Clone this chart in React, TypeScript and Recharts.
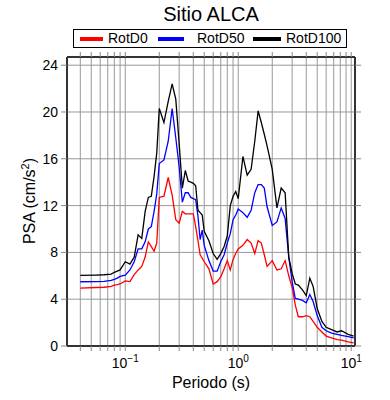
import { LineChart, Line, XAxis, YAxis, CartesianGrid } from 'recharts';

const FONT = '"Liberation Sans", Arial, Helvetica, sans-serif';

const periods = [
  0.04, 0.055, 0.065, 0.075, 0.08, 0.085, 0.09, 0.1, 0.11, 0.12, 0.13, 0.14,
  0.15, 0.16, 0.17, 0.18, 0.19, 0.2, 0.22, 0.24, 0.26, 0.28, 0.3, 0.32, 0.34,
  0.36, 0.38, 0.4, 0.42, 0.44, 0.46, 0.48, 0.5, 0.55, 0.6, 0.65, 0.7, 0.75,
  0.8, 0.85, 0.9, 0.95, 1.0, 1.1, 1.2, 1.3, 1.4, 1.5, 1.6, 1.7, 1.8, 2.0, 2.2,
  2.4, 2.6, 2.8, 3.0, 3.2, 3.4, 3.7, 4.0, 4.3, 4.6, 5.0, 5.5, 6.0, 6.7, 7.5,
  8.2, 9.4, 10.5,
];

const rotD0 = [
  4.94, 5.0, 5.02, 5.1, 5.2, 5.24, 5.3, 5.57, 5.5, 6.1, 6.5, 6.8, 7.6, 8.9,
  8.5, 8.1, 8.8, 12.7, 12.8, 14.4, 12.9, 10.8, 10.5, 11.5, 11.3, 11.3, 11.3,
  11.3, 10.2, 9.0, 7.8, 7.5, 7.2, 6.6, 5.3, 5.5, 5.9, 6.6, 7.3, 6.5, 7.4, 7.9,
  8.3, 8.6, 9.1, 8.8, 7.9, 9.0, 8.8, 7.8, 6.8, 7.3, 6.5, 6.6, 7.3, 6.0, 5.0,
  3.5, 2.5, 2.5, 2.6, 2.5, 2.1, 1.6, 1.2, 0.85, 0.7, 0.55, 0.5, 0.35, 0.26,
];

const rotD50 = [
  5.49, 5.5, 5.52, 5.6, 5.7, 5.8, 5.95, 6.05, 6.5, 7.2, 8.3, 8.3, 8.9, 10.0,
  10.2, 11.5, 13.0, 15.6, 15.9, 17.5, 20.3, 17.8, 15.3, 12.3, 13.1, 13.1,
  12.7, 12.6, 12.5, 11.1, 9.1, 9.9, 8.6, 7.3, 6.4, 6.4, 7.2, 7.8, 8.8, 9.6,
  10.8, 11.2, 11.7, 11.4, 11.0, 11.6, 13.1, 13.8, 13.8, 13.5, 11.9, 10.3,
  10.6, 11.8, 10.9, 7.6, 5.5, 4.06, 4.0, 3.9, 3.7, 4.4, 3.8, 2.6, 1.6, 1.3,
  1.1, 1.0, 0.9, 0.8, 0.7,
];

const rotD100 = [
  6.03, 6.06, 6.09, 6.14, 6.3, 6.4, 6.5, 7.2, 7.0, 7.6, 9.5, 9.2, 11.5, 12.7,
  12.8, 14.5, 16.5, 20.3, 19.1, 20.9, 22.4, 21.1, 17.3, 13.5, 15.0, 14.1,
  14.0, 13.9, 13.7, 11.6, 11.4, 11.2, 9.8, 9.0, 7.9, 7.4, 7.9, 8.5, 9.4, 12.0,
  12.8, 13.2, 12.6, 16.2, 14.6, 15.1, 17.5, 20.1, 19.1, 18.1, 17.1, 15.1,
  11.8, 13.5, 13.1, 7.6, 6.2, 5.3, 5.2, 4.8, 4.3, 5.8, 5.1, 3.2, 2.1, 1.6,
  1.4, 1.2, 1.3, 1.0, 0.85,
];

const xTicks = [
  0.04, 0.05, 0.06, 0.07, 0.08, 0.09, 0.1, 0.2, 0.3, 0.4, 0.5, 0.6, 0.7, 0.8,
  0.9, 1, 2, 3, 4, 5, 6, 7, 8, 9, 10,
];
const xLabelTicks = [0.1, 1, 10];
const xLabelExponents = ['\u22121', '0', '1'];
const yTicks = [0, 4, 8, 12, 16, 20, 24];

const seriesNames = ['RotD0', 'RotD50', 'RotD100'];
const seriesColors = ['#ff0000', '#0000ff', '#000000'];

const data = periods.map((p, i) => ({
  period: p,
  rotD0: rotD0[i],
  rotD50: rotD50[i],
  rotD100: rotD100[i],
}));

function PowerTick({ x, y, payload }: any) {
  const idx = xLabelTicks.indexOf(payload.value);
  if (idx < 0) return <g />;
  return (
    <text
      x={x}
      y={y + 15}
      textAnchor="middle"
      fontFamily={FONT}
      fontSize={14}
      fill="#000"
    >
      <tspan>10</tspan>
      <tspan dy={-6} fontSize={10}>
        {xLabelExponents[idx]}
      </tspan>
    </text>
  );
}

const legendItems = [
  { line: [6, 29], text: 34 },
  { line: [84, 110], text: 123 },
  { line: [179, 207], text: 212 },
];

export default function App() {
  const frame = { stroke: '#333', strokeWidth: 2 };
  const tickLine = { stroke: '#888' };
  return (
    <div
      style={{
        position: 'absolute',
        left: 0,
        top: 0,
        width: 390,
        height: 400,
        background: '#fff',
        fontFamily: FONT,
      }}
    >
      <div
        style={{
          position: 'absolute',
          left: 0,
          width: 422,
          top: 2,
          textAlign: 'center',
          fontSize: 20,
          lineHeight: '24px',
          color: '#000',
        }}
      >
        Sitio ALCA
      </div>
      <div
        style={{
          position: 'absolute',
          left: 73,
          top: 29,
          width: 272,
          height: 17,
          border: '1.5px solid #000',
          fontSize: 14,
        }}
      >
        {legendItems.map((it, i) => (
          <div key={seriesNames[i]}>
            <div
              style={{
                position: 'absolute',
                left: it.line[0],
                width: it.line[1] - it.line[0],
                top: 7,
                height: 4,
                background: seriesColors[i],
              }}
            />
            <div
              style={{
                position: 'absolute',
                left: it.text,
                top: 0,
                lineHeight: '17px',
                color: '#000',
              }}
            >
              {seriesNames[i]}
            </div>
          </div>
        ))}
      </div>
      <LineChart
        width={390}
        height={400}
        data={data}
        margin={{ top: 51, right: 29, bottom: 0, left: 0 }}
      >
        <CartesianGrid stroke="#999" strokeWidth={1} />
        <XAxis
          dataKey="period"
          type="number"
          scale="log"
          domain={[0.0305, 10.8]}
          allowDataOverflow
          ticks={xTicks}
          interval={0}
          height={54}
          tickSize={5}
          tickMargin={2}
          tick={<PowerTick />}
          axisLine={frame}
          tickLine={tickLine}
        />
        <XAxis
          xAxisId="top"
          orientation="top"
          dataKey="period"
          type="number"
          scale="log"
          domain={[0.0305, 10.8]}
          allowDataOverflow
          ticks={xTicks}
          interval={0}
          height={6}
          tickSize={5}
          tickFormatter={() => ''}
          axisLine={frame}
          tickLine={tickLine}
        />
        <YAxis
          type="number"
          domain={[0, 24.7]}
          allowDataOverflow
          ticks={yTicks}
          interval={0}
          width={67}
          tickSize={6}
          tickMargin={3}
          tick={{ fill: '#000', fontSize: 14, fontFamily: FONT }}
          axisLine={frame}
          tickLine={tickLine}
        />
        <YAxis
          yAxisId="right"
          orientation="right"
          type="number"
          domain={[0, 24.7]}
          allowDataOverflow
          ticks={yTicks}
          interval={0}
          width={6}
          tickSize={6}
          tickFormatter={() => ''}
          axisLine={frame}
          tickLine={tickLine}
        />
        <Line
          dataKey="rotD0"
          stroke={seriesColors[0]}
          strokeWidth={1.3}
          dot={false}
          type="linear"
          isAnimationActive={false}
        />
        <Line
          dataKey="rotD50"
          stroke={seriesColors[1]}
          strokeWidth={1.3}
          dot={false}
          type="linear"
          isAnimationActive={false}
        />
        <Line
          dataKey="rotD100"
          stroke={seriesColors[2]}
          strokeWidth={1.3}
          dot={false}
          type="linear"
          isAnimationActive={false}
        />
      </LineChart>
      <div
        style={{
          position: 'absolute',
          left: 0,
          width: 422,
          top: 373,
          textAlign: 'center',
          fontSize: 16,
          lineHeight: '20px',
          color: '#000',
        }}
      >
        Periodo (s)
      </div>
      <div
        style={{
          position: 'absolute',
          left: 30,
          top: 201,
          transform: 'translate(-50%, -50%) rotate(-90deg)',
          whiteSpace: 'nowrap',
          fontSize: 16,
          lineHeight: '20px',
          color: '#000',
        }}
      >
        PSA (cm/s<sup style={{ fontSize: 11, lineHeight: 0 }}>2</sup>)
      </div>
    </div>
  );
}
